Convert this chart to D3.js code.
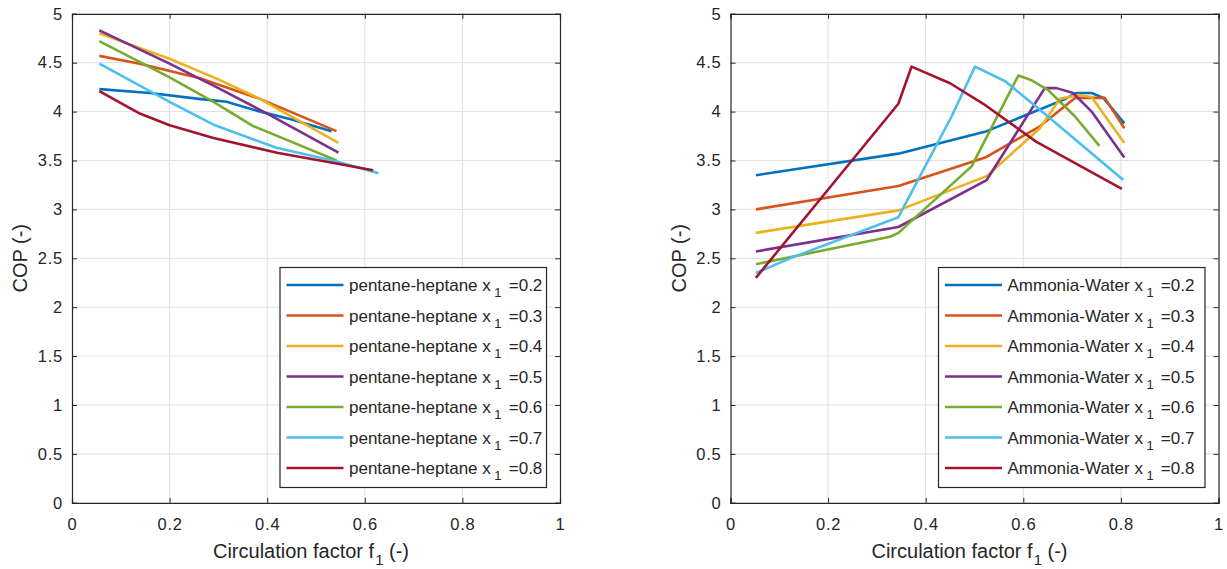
<!DOCTYPE html>
<html>
<head>
<meta charset="utf-8">
<script src="https://cdn.jsdelivr.net/npm/d3@7"></script>
<style>
  body { margin: 0; background: #fff; }
  svg { font-family: "Liberation Sans", Arial, sans-serif; }
</style>
</head>
<body>
<div id="chart"></div>
<script>
// ---- data: [f1, COP] ----
var ph02 = [[0.056,4.23],[0.16,4.19],[0.26,4.13],[0.317,4.10],[0.378,4.01],[0.45,3.92],[0.532,3.80]];
var ph03 = [[0.056,4.57],[0.139,4.49],[0.262,4.34],[0.385,4.13],[0.542,3.80]];
var ph04 = [[0.056,4.80],[0.2,4.54],[0.3,4.33],[0.385,4.13],[0.546,3.68]];
var ph05 = [[0.056,4.83],[0.2,4.49],[0.3,4.24],[0.4,3.98],[0.546,3.58]];
var ph06 = [[0.056,4.72],[0.2,4.35],[0.29,4.10],[0.372,3.85],[0.45,3.69],[0.542,3.50]];
var ph07 = [[0.056,4.49],[0.2,4.10],[0.293,3.86],[0.419,3.63],[0.542,3.49],[0.628,3.37]];
var ph08 = [[0.056,4.21],[0.139,3.98],[0.2,3.86],[0.29,3.73],[0.42,3.58],[0.542,3.47],[0.617,3.40]];

var aw02 = [[0.052,3.35],[0.344,3.57],[0.525,3.80],[0.603,3.96],[0.682,4.12],[0.709,4.19],[0.740,4.19],[0.764,4.14],[0.807,3.88]];
var aw03 = [[0.052,3.00],[0.344,3.24],[0.522,3.53],[0.634,3.85],[0.706,4.14],[0.767,4.14],[0.807,3.83]];
var aw04 = [[0.052,2.76],[0.344,2.99],[0.525,3.34],[0.634,3.83],[0.675,4.13],[0.713,4.17],[0.740,4.15],[0.807,3.68]];
var aw05 = [[0.052,2.57],[0.344,2.82],[0.525,3.30],[0.644,4.24],[0.668,4.24],[0.702,4.19],[0.740,4.00],[0.807,3.53]];
var aw06 = [[0.052,2.44],[0.327,2.72],[0.344,2.76],[0.494,3.44],[0.590,4.37],[0.617,4.32],[0.651,4.22],[0.706,3.95],[0.756,3.65]];
var aw07 = [[0.052,2.35],[0.132,2.52],[0.344,2.92],[0.453,3.95],[0.501,4.46],[0.563,4.31],[0.634,4.02],[0.805,3.30]];
var aw08 = [[0.052,2.30],[0.344,4.08],[0.371,4.46],[0.450,4.29],[0.518,4.08],[0.627,3.69],[0.802,3.21]];

var fractions = ['0.2','0.3','0.4','0.5','0.6','0.7','0.8'];
var colors = ['#0072BD','#D95319','#EDB120','#7E2F8E','#77AC30','#4DBEEE','#A2142F'];
var xTicks = [0, 0.2, 0.4, 0.6, 0.8, 1];
var yTicks = [0, 0.5, 1, 1.5, 2, 2.5, 3, 3.5, 4, 4.5, 5];

var W = 1227, H = 569;
var svg = d3.select('#chart').append('svg').attr('width', W).attr('height', H);

function panel(left, seriesList, name) {
  var top = 13.8, bottom = 502.8, right = left + 488;
  var x = d3.scaleLinear().domain([0, 1]).range([left, right]);
  var y = d3.scaleLinear().domain([0, 5]).range([bottom, top]);
  var g = svg.append('g');
  var axisCol = '#262626';

  // grid
  g.append('g').selectAll('line.gx').data(xTicks.slice(1, -1)).enter().append('line')
    .attr('x1', d => x(d)).attr('x2', d => x(d)).attr('y1', top).attr('y2', bottom)
    .attr('stroke', '#dfdfdf').attr('stroke-width', 1);
  g.append('g').selectAll('line.gy').data(yTicks.slice(1, -1)).enter().append('line')
    .attr('y1', d => y(d)).attr('y2', d => y(d)).attr('x1', left).attr('x2', right)
    .attr('stroke', '#dfdfdf').attr('stroke-width', 1);

  // series
  var line = d3.line().x(d => x(d[0])).y(d => y(d[1]));
  seriesList.forEach(function (s, i) {
    g.append('path').datum(s).attr('d', line)
      .attr('fill', 'none').attr('stroke', colors[i]).attr('stroke-width', 2.6)
      .attr('stroke-linejoin', 'round');
  });

  // axes: inward ticks on all four sides
  var ax = g.append('g');
  ax.append('g').attr('transform', 'translate(0,' + bottom + ')')
    .call(d3.axisBottom(x).tickValues(xTicks).tickSize(-5).tickPadding(15).tickFormat(d3.format('')));
  ax.append('g').attr('transform', 'translate(0,' + top + ')')
    .call(d3.axisTop(x).tickValues(xTicks).tickSize(-5).tickFormat(''));
  ax.append('g').attr('transform', 'translate(' + left + ',0)')
    .call(d3.axisLeft(y).tickValues(yTicks).tickSize(-5).tickPadding(9).tickFormat(d3.format('')));
  ax.append('g').attr('transform', 'translate(' + right + ',0)')
    .call(d3.axisRight(y).tickValues(yTicks).tickSize(-5).tickFormat(''));
  ax.selectAll('.domain').attr('stroke', axisCol).attr('stroke-width', 1.2);
  ax.selectAll('.tick line').attr('stroke', axisCol);
  ax.selectAll('.tick text').attr('fill', axisCol).attr('font-size', 16.5)
    .attr('letter-spacing', 0.8)
    .attr('font-family', '"Liberation Sans", Arial, sans-serif');

  // axis labels
  var xl = g.append('text').attr('x', (left + right) / 2 - 5).attr('y', 557.5)
    .attr('text-anchor', 'middle').attr('font-size', 20).attr('fill', axisCol);
  xl.append('tspan').text('Circulation factor f');
  xl.append('tspan').text('1').attr('font-size', 15).attr('dx', 1).attr('dy', 7);
  xl.append('tspan').text(' (-)').attr('dy', -7);

  g.append('text').attr('transform', 'translate(' + (left - 45) + ',' + ((top + bottom) / 2) + ') rotate(-90)')
    .attr('text-anchor', 'middle').attr('font-size', 20).attr('fill', axisCol).text('COP (-)');

  // legend
  var lx = right - 280, ly = 267.5, lw = 266.5, lh = 220;
  var lg = g.append('g');
  lg.append('rect').attr('x', lx).attr('y', ly).attr('width', lw).attr('height', lh)
    .attr('fill', '#fff').attr('stroke', axisCol).attr('stroke-width', 1.2);
  fractions.forEach(function (f, i) {
    var cy = ly + 17.5 + i * 30.5;
    lg.append('line').attr('x1', lx + 6.5).attr('x2', lx + 63.5).attr('y1', cy).attr('y2', cy)
      .attr('stroke', colors[i]).attr('stroke-width', 2.6);
    var t = lg.append('text').attr('x', lx + 69).attr('y', cy + 6)
      .attr('font-size', 17).attr('fill', axisCol);
    t.append('tspan').text(name + ' x');
    t.append('tspan').text('1').attr('font-size', 13).attr('dx', 3.5).attr('dy', 6);
    t.append('tspan').text(' =' + f).attr('dx', 2.5).attr('dy', -6);
  });
}

panel(72, [ph02, ph03, ph04, ph05, ph06, ph07, ph08], 'pentane-heptane');
panel(730.5, [aw02, aw03, aw04, aw05, aw06, aw07, aw08], 'Ammonia-Water');
</script>
</body>
</html>
